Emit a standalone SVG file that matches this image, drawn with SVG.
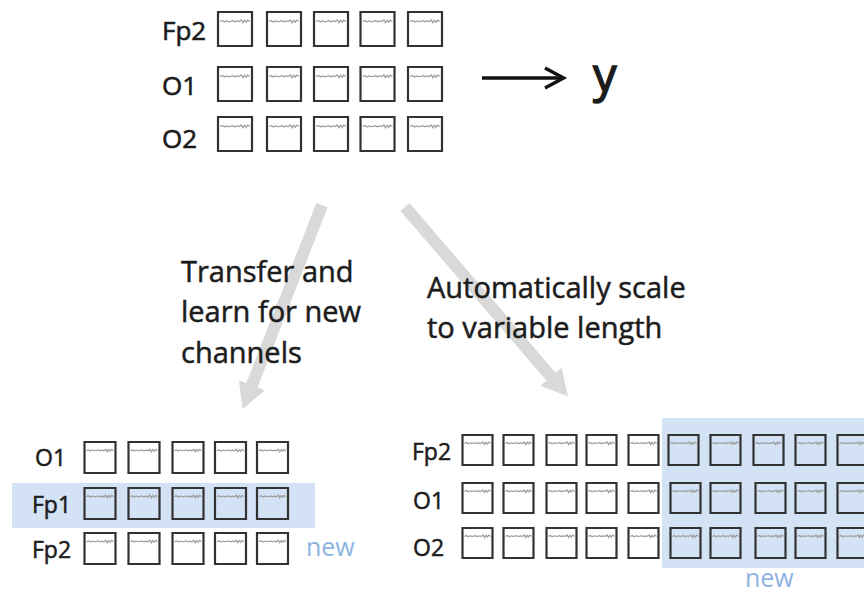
<svg xmlns="http://www.w3.org/2000/svg" xmlns:xlink="http://www.w3.org/1999/xlink" width="864" height="594" viewBox="0 0 864 594">
<style>
text{font-family:"Open Sans","Liberation Sans",sans-serif;fill:#1c1c1c}
.lbl{font-size:26px;stroke:#1c1c1c;stroke-width:0.6}
.lbs{font-size:23px;stroke:#1c1c1c;stroke-width:0.5}
.mid{font-size:29px;stroke:#1c1c1c;stroke-width:0.5}
.new{font-size:25px;fill:#8db3e2}
.box{fill:none;stroke:#333;stroke-width:2.2}
.wave{fill:none;stroke:#9c9c9c;stroke-width:1.2}
.hl{fill:#d3e2f5}
.big{stroke:#d9d9d9;stroke-width:12;fill:none}
</style>
<defs>
<symbol id="cell" viewBox="0 0 32 32" overflow="visible">
<rect class="box" x="0" y="0" width="32" height="32" vector-effect="non-scaling-stroke"/>
<path class="wave" vector-effect="non-scaling-stroke" d="M2,9 L4,8 L6,9.4 L8,8.3 L10,9 L12,8.8 L14,8.2 L16,9.2 L18,8.4 L20,9 L22,7.4 L23.5,10.2 L25,7.8 L26.5,9.6 L28,7.6 L30,9"/>
</symbol>
<marker id="gh" viewBox="0 -16 30 32" markerUnits="userSpaceOnUse" markerWidth="30" markerHeight="32" refX="1" refY="0" orient="auto">
<path d="M0,-14 L26,0 L0,14 Z" fill="#d9d9d9"/>
</marker>
</defs>

<g id="highlights">
<rect class="hl" x="12" y="483" width="303" height="45"/>
<rect class="hl" x="662" y="418" width="202" height="150"/>
</g>

<g id="connectors">
<line class="big" x1="322" y1="205" x2="251.6" y2="386" marker-end="url(#gh)"/>
<line class="big" x1="405" y1="207" x2="551.7" y2="377.5" marker-end="url(#gh)"/>
<line x1="482" y1="78" x2="561" y2="78" stroke="#111" stroke-width="3.5"/>
<polyline points="545,68 563.5,78 545,88" fill="none" stroke="#111" stroke-width="3.5"/>
</g>

<g id="top-grid">
<text class="lbl" x="162" y="40">Fp2</text>
<text class="lbl" x="162" y="95">O1</text>
<text class="lbl" x="162" y="148">O2</text>
<use href="#cell" x="218" y="12" width="34" height="34"/>
<use href="#cell" x="267" y="12" width="34" height="34"/>
<use href="#cell" x="314" y="12" width="34" height="34"/>
<use href="#cell" x="360" y="12" width="35" height="34"/>
<use href="#cell" x="408" y="12" width="34" height="34"/>
<use href="#cell" x="218" y="67" width="34" height="34"/>
<use href="#cell" x="267" y="67" width="34" height="34"/>
<use href="#cell" x="314" y="67" width="34" height="34"/>
<use href="#cell" x="360" y="67" width="35" height="34"/>
<use href="#cell" x="408" y="67" width="34" height="34"/>
<use href="#cell" x="218" y="117" width="34" height="34"/>
<use href="#cell" x="267" y="117" width="34" height="34"/>
<use href="#cell" x="314" y="117" width="34" height="34"/>
<use href="#cell" x="360" y="117" width="35" height="34"/>
<use href="#cell" x="408" y="117" width="34" height="34"/>
</g>

<g id="output-y">
<text x="593" y="92" style="font-size:47px;stroke:#1c1c1c;stroke-width:1.4">y</text>
</g>

<g id="label-transfer">
<text class="mid" x="181" y="282">Transfer and</text>
<text class="mid" x="181" y="322">learn for new</text>
<text class="mid" x="181" y="363">channels</text>
</g>

<g id="label-scale">
<text class="mid" x="427" y="298">Automatically scale</text>
<text class="mid" x="427" y="338">to variable length</text>
</g>

<g id="bottom-left-grid">
<text class="lbs" x="35" y="466">O1</text>
<text class="lbs" x="32" y="513">Fp1</text>
<text class="lbs" x="32" y="558">Fp2</text>
<use href="#cell" x="84" y="442" width="32" height="31"/>
<use href="#cell" x="128" y="442" width="32" height="31"/>
<use href="#cell" x="172" y="442" width="32" height="31"/>
<use href="#cell" x="214" y="442" width="33" height="31"/>
<use href="#cell" x="257" y="442" width="31" height="31"/>
<use href="#cell" x="84" y="488" width="32" height="31"/>
<use href="#cell" x="128" y="488" width="32" height="31"/>
<use href="#cell" x="172" y="488" width="32" height="31"/>
<use href="#cell" x="214" y="488" width="33" height="31"/>
<use href="#cell" x="257" y="488" width="31" height="31"/>
<use href="#cell" x="84" y="533" width="32" height="31"/>
<use href="#cell" x="128" y="533" width="32" height="31"/>
<use href="#cell" x="172" y="533" width="32" height="31"/>
<use href="#cell" x="214" y="533" width="33" height="31"/>
<use href="#cell" x="257" y="533" width="31" height="31"/>
<text class="new" x="306" y="556">new</text>
</g>

<g id="bottom-right-grid">
<text class="lbs" x="412" y="460">Fp2</text>
<text class="lbs" x="413" y="509">O1</text>
<text class="lbs" x="413" y="556">O2</text>
<g id="row-fp2">
<use href="#cell" x="462" y="435" width="31" height="30"/>
<use href="#cell" x="503" y="435" width="31" height="30"/>
<use href="#cell" x="546" y="435" width="31" height="30"/>
<use href="#cell" x="586" y="435" width="31" height="30"/>
<use href="#cell" x="628" y="435" width="31" height="30"/>
<use href="#cell" x="668" y="435" width="31" height="30"/>
<use href="#cell" x="710" y="435" width="31" height="30"/>
<use href="#cell" x="753" y="435" width="31" height="30"/>
<use href="#cell" x="795" y="435" width="31" height="30"/>
<use href="#cell" x="837" y="435" width="31" height="30"/>
</g>
<g id="row-o1">
<use href="#cell" x="462" y="483" width="31" height="30"/>
<use href="#cell" x="503" y="483" width="31" height="30"/>
<use href="#cell" x="546" y="483" width="31" height="30"/>
<use href="#cell" x="586" y="483" width="31" height="30"/>
<use href="#cell" x="628" y="483" width="31" height="30"/>
<use href="#cell" x="670" y="483" width="31" height="30"/>
<use href="#cell" x="710" y="483" width="31" height="30"/>
<use href="#cell" x="755" y="483" width="31" height="30"/>
<use href="#cell" x="795" y="483" width="31" height="30"/>
<use href="#cell" x="837" y="483" width="31" height="30"/>
</g>
<g id="row-o2">
<use href="#cell" x="462" y="528" width="31" height="30"/>
<use href="#cell" x="503" y="528" width="31" height="30"/>
<use href="#cell" x="546" y="528" width="31" height="30"/>
<use href="#cell" x="586" y="528" width="31" height="30"/>
<use href="#cell" x="628" y="528" width="31" height="30"/>
<use href="#cell" x="670" y="528" width="31" height="30"/>
<use href="#cell" x="710" y="528" width="31" height="30"/>
<use href="#cell" x="755" y="528" width="31" height="30"/>
<use href="#cell" x="795" y="528" width="31" height="30"/>
<use href="#cell" x="837" y="528" width="31" height="30"/>
</g>
<text class="new" x="745" y="587">new</text>
</g>
</svg>
